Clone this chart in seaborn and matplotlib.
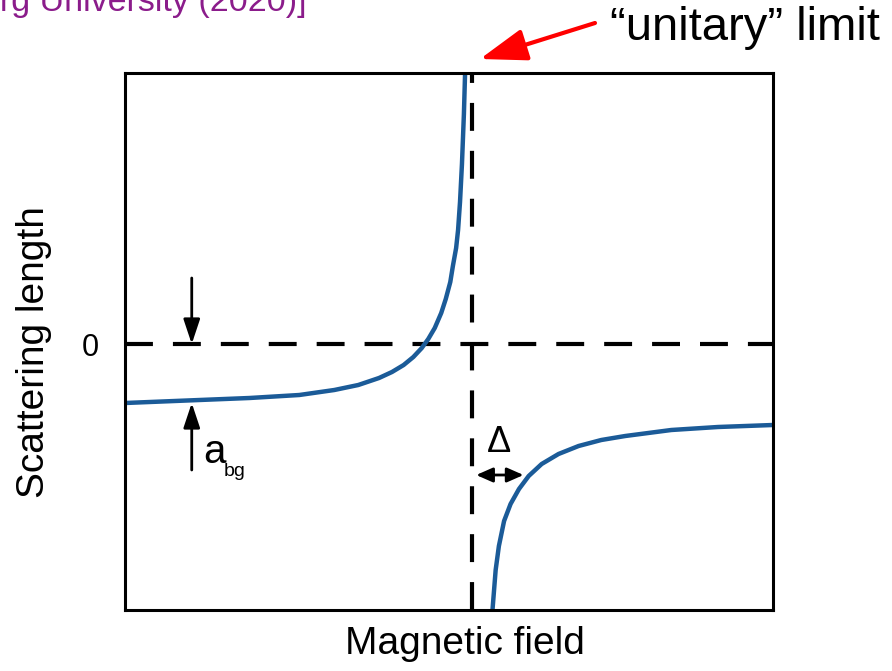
import matplotlib
matplotlib.use("Agg")
import matplotlib.pyplot as plt
import seaborn as sns

sns.set_style("white")
plt.rcParams['font.family'] = ['Liberation Sans', 'DejaVu Sans']
plt.rcParams['text.color'] = 'black'
plt.rcParams['axes.labelcolor'] = 'black'
plt.rcParams['ytick.color'] = 'black'

# (field in arbitrary units 0..10, scattering length arbitrary)
left_field = [0.00, 1.15, 1.92, 2.69, 3.23, 3.60, 3.92, 4.12, 4.30, 4.45, 4.58, 4.68, 4.78, 4.88,
              4.95, 5.02, 5.06, 5.11, 5.14, 5.17, 5.20, 5.23, 5.25]
left_length = [-0.59, -0.56, -0.54, -0.51, -0.46, -0.41, -0.34, -0.28, -0.21, -0.13, -0.04, 0.05, 0.16, 0.31,
               0.45, 0.62, 0.78, 0.96, 1.14, 1.42, 1.80, 2.30, 2.75]
right_field = [5.66, 5.72, 5.77, 5.85, 5.95, 6.08, 6.23, 6.43, 6.69, 7.00, 7.35, 7.72,
               8.43, 9.15, 10.0]
right_length = [-2.75, -2.26, -2.02, -1.77, -1.60, -1.45, -1.32, -1.20, -1.10, -1.02, -0.96, -0.92,
                -0.86, -0.83, -0.81]
resonance_field = 5.35
abg_field = 1.03
abg_value = -0.59
delta_span = [5.42, 6.15]
delta_level = -1.31

CURVE_COLOR = '#1b5b98'

fig = plt.figure(figsize=(8.92, 6.71), dpi=100)
ax = fig.add_axes([125 / 892, 1 - 610 / 671, 648 / 892, 537 / 671])

sns.lineplot(x=left_field, y=left_length, sort=False, estimator=None, color=CURVE_COLOR, lw=3.2, ax=ax)
sns.lineplot(x=right_field, y=right_length, sort=False, estimator=None, color=CURVE_COLOR, lw=3.2, ax=ax)

ax.axhline(0, color='black', lw=3, dashes=(6.7, 4.8), zorder=1)
ax.axvline(resonance_field, color='black', lw=3, dashes=(6.7, 4.8), zorder=1)

ax.set_xlim(0, 10)
ax.set_ylim(-2.66, 2.71)
ax.set_xticks([])
ax.set_yticks([0])
ax.set_yticklabels(['0'], fontsize=22)
ax.tick_params(axis='y', length=0, pad=19)
for sp in ax.spines.values():
    sp.set_linewidth(2.2)
    sp.set_color('black')

ax.set_xlabel("Magnetic field", fontsize=28)
ax.xaxis.set_label_coords(0.525, -0.03)
ax.set_ylabel("Scattering length", fontsize=28)
ax.yaxis.set_label_coords(-0.113, 0.48)

# a_bg arrows
arrow_kw = dict(arrowstyle='-|>,head_length=0.6,head_width=0.2', mutation_scale=25,
                color='black', lw=2, shrinkA=0, shrinkB=0)
ax.annotate('', xy=(abg_field, 0), xytext=(abg_field, 0.66), arrowprops=arrow_kw)
ax.annotate('', xy=(abg_field, abg_value), xytext=(abg_field, -1.26), arrowprops=arrow_kw)
ax.text(1.2, -1.19, 'a', fontsize=29, ha='left', va='baseline')
ax.text(1.52, -1.32, 'bg', fontsize=14, ha='left', va='baseline')

# Delta
ax.annotate('', xy=(delta_span[1], delta_level), xytext=(delta_span[0], delta_level),
            arrowprops=dict(arrowstyle='<|-|>,head_length=0.5,head_width=0.22', mutation_scale=20,
                            color='black', lw=2, shrinkA=0, shrinkB=0))
ax.text(5.77, -0.99, '\u0394', fontsize=26, ha='center', va='center')

# unitary limit marker
ax.annotate('', xy=(480, 612), xycoords='figure pixels', xytext=(595, 648),
            textcoords='figure pixels', annotation_clip=False,
            arrowprops=dict(arrowstyle='-|>,head_length=0.96,head_width=0.33', mutation_scale=30,
                            color='#ff0000', lw=3, shrinkA=0, shrinkB=0))
fig.text(610 / 892, 1 - 28 / 671, '\u201cunitary\u201d limit', fontsize=34, ha='left', va='center')

fig.text(0.0, 1 - 11 / 671, 'rg University (2020)]', fontsize=24.5, color='#8b1c8b',
         ha='left', va='baseline')

fig.savefig('out.png', dpi=100)
